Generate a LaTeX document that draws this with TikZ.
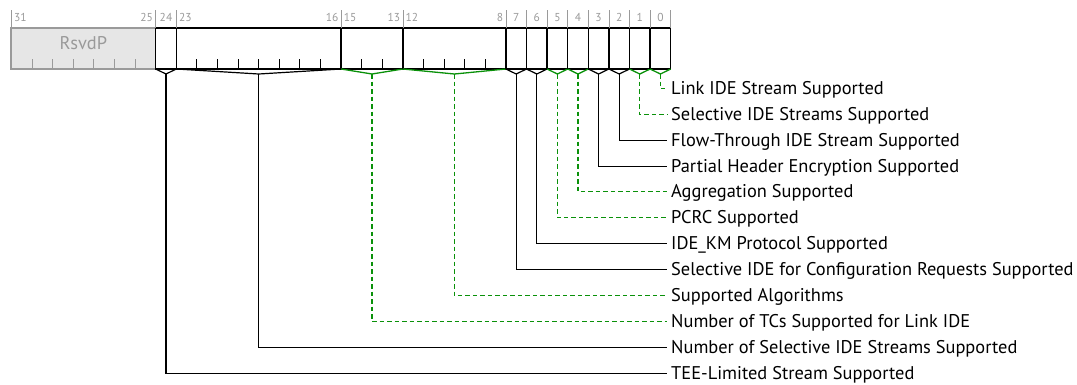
\documentclass[tikz,border=0pt]{standalone}
\usepackage{fontspec}
\setmainfont{PT Sans}
\usetikzlibrary{calc}
\definecolor{optgreen}{RGB}{10,145,10}
\definecolor{rsvdfill}{HTML}{E6E6E6}
\definecolor{numgrey}{HTML}{9A9A9A}
\begin{document}
\begin{tikzpicture}[x=1pt,y=-1pt,
  lbl/.style={anchor=west,inner xsep=4pt,inner ysep=0pt,text height=12.9pt,text depth=0pt,font=\fontsize{18.4}{18}\selectfont},
  bitno/.style={font=\fontsize{11.5}{12}\selectfont,text=numgrey,inner sep=0pt},
  fixed/.style={draw=black,line width=1.2pt},
  optional/.style={draw=optgreen,line width=1.3pt,dash pattern=on 4.5pt off 3pt}]
\useasboundingbox (0,0) rectangle (1077,384);
% register box
\filldraw[fill=rsvdfill,draw=numgrey,line width=1.5pt] (11,28) rectangle (155.6,69);
\node[font=\fontsize{18.4}{18}\selectfont,text=numgrey] (rsvd) at (83.3,43) {RsvdP};
\foreach \b in {26,...,31}{
\draw[numgrey,line width=1pt] (670.7-20.6*\b,59)--(670.7-20.6*\b,69);}
\draw[line width=1.5pt] (155.6,28) rectangle (670.7,69);
% fields: hi/lo/style
\foreach \hi/\lo/\s in {31/25/rsvd,24/24/fixed,23/16/fixed,15/13/optional,12/8/optional,
  7/7/fixed,6/6/fixed,5/5/optional,4/4/optional,3/3/fixed,2/2/fixed,1/1/optional,0/0/optional}{
\pgfmathsetmacro\xl{670.7-20.6*(\hi+1)}
\pgfmathsetmacro\xr{670.7-20.6*\lo}
\draw[numgrey,line width=0.8pt] (\xl,10)--(\xl,28) (\xr,10)--(\xr,28);
\ifnum\hi=\lo
  \node[bitno,anchor=base] (n\lo) at ({(\xl+\xr)/2},21) {\lo};
\else
  \node[bitno,anchor=base west] (h\hi) at (\xl+2.5,21) {\hi};
  \node[bitno,anchor=base east] (n\lo) at (\xr-2.5,21) {\lo};
\fi
\ifnum\hi<25
  \draw[line width=1.5pt] (\xl,28)--(\xl,69);
  \pgfmathtruncatemacro\top{\hi}
  \pgfmathtruncatemacro\bot{\lo+1}
  \ifnum\top>\lo
    \foreach \b in {\bot,...,\top}{
    \draw[line width=1pt] (670.7-20.6*\b,59)--(670.7-20.6*\b,69);}
  \fi
  \coordinate (t\lo) at ({(\xl+\xr)/2},74);
  \draw[\s,solid] (\xl,69)--(t\lo)--(\xr,69);
\fi
}
% field descriptions
\node[lbl] (l0) at (667,88.5) {Link IDE Stream Supported};
\node[lbl] (l1) at (667,114.5) {Selective IDE Streams Supported};
\node[lbl] (l2) at (667,140.5) {Flow-Through IDE Stream Supported};
\node[lbl] (l3) at (667,166.5) {Partial Header Encryption Supported};
\node[lbl] (l4) at (667,191.5) {Aggregation Supported};
\node[lbl] (l5) at (667,217.5) {PCRC Supported};
\node[lbl] (l6) at (667,243.5) {IDE\_KM Protocol Supported};
\node[lbl] (l7) at (667,269.5) {Selective IDE for Configuration Requests Supported};
\node[lbl] (l8) at (667,295.5) {Supported Algorithms};
\node[lbl] (l13) at (667,321.5) {Number of TCs Supported for Link IDE};
\node[lbl] (l16) at (667,347.5) {Number of Selective IDE Streams Supported};
\node[lbl] (l24) at (667,373.5) {TEE-Limited Stream Supported};
\foreach \f/\s in {0/optional,1/optional,2/fixed,3/fixed,4/optional,5/optional,6/fixed,
  7/fixed,8/optional,13/optional,16/fixed,24/fixed}{
\draw[\s] (t\f) |- (l\f.west);}
\end{tikzpicture}
\end{document}
